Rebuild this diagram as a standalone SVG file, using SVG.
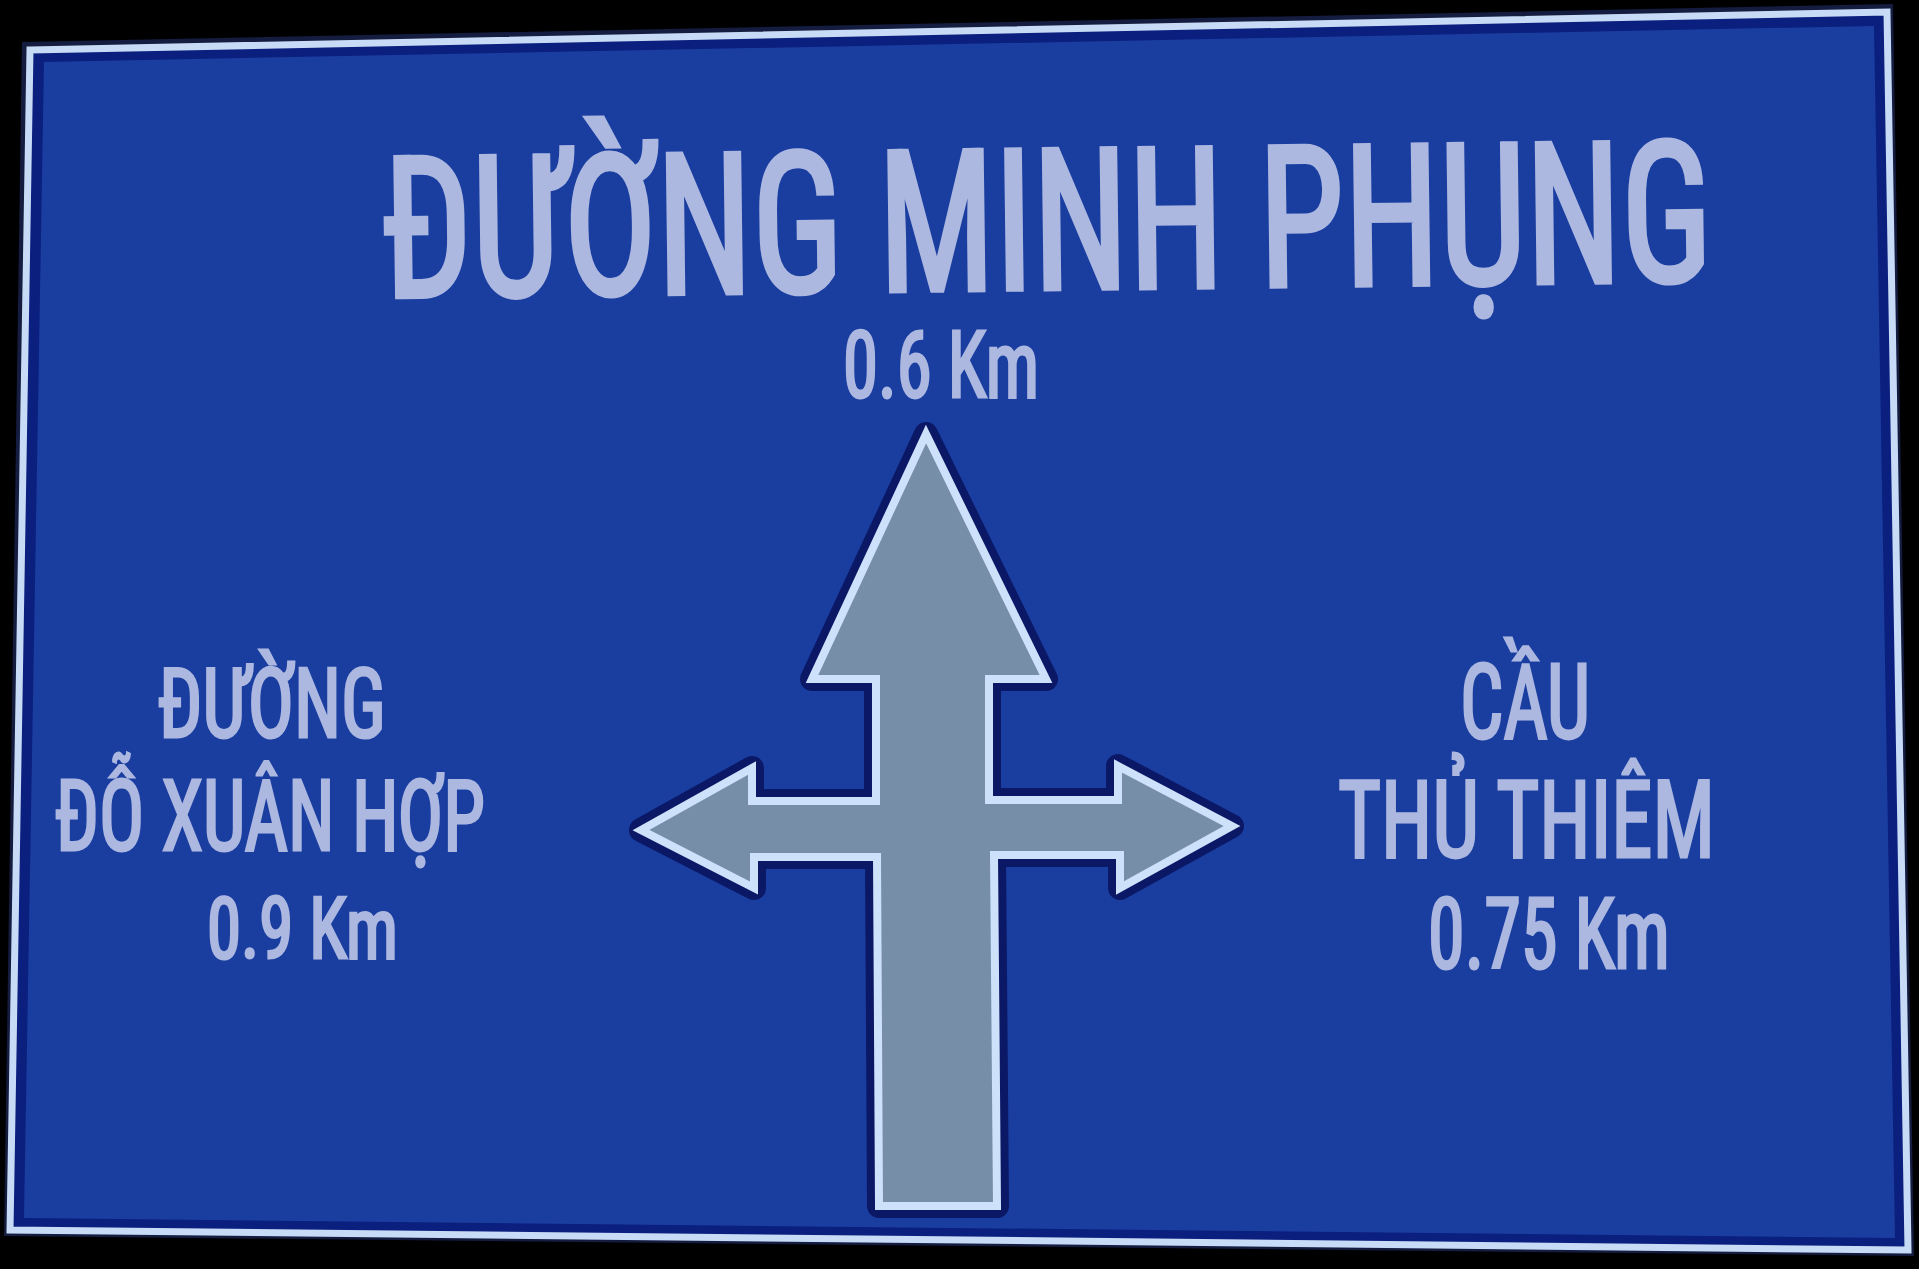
<svg xmlns="http://www.w3.org/2000/svg" width="1919" height="1269" viewBox="0 0 1919 1269">
  <style>
    .t { font-family: 'Liberation Sans Narrow', 'Roboto Condensed', 'DejaVu Sans Condensed', Roboto, sans-serif; font-weight: normal; fill: #adb8e1; stroke: #adb8e1; stroke-width: 5; stroke-linejoin: miter; }
    .s { stroke-width: 3; }
  </style>
  <defs>
    <polygon id="arrowShape" points="926,434 1046,679 989,679 989,800 1118,800 1118,766 1232,826 1120,888 1120,855 994,855 997,1206 879,1206 877,857 754,857 754,888 641,830 752,768 752,801 876,801 876,679 812,679"/>
  </defs>
  <rect id="backdrop" x="0" y="0" width="1919" height="1269" fill="#000000"/>
  <g id="sign">
    <polygon points="22,42 1893,4 1914,1256 4,1236" fill="#141c40"/>
    <polygon points="30,50 1887,12 1908,1250 10,1230" fill="#0b1f7e" stroke="#c8dbf6" stroke-width="7" stroke-linejoin="miter"/>
    <polygon points="44,62 1874,26 1895,1238 24,1218" fill="#1a3ea0"/>
  </g>
  <g id="arrow">
    <use href="#arrowShape" fill="#0a1866" stroke="#0a1866" stroke-width="24" stroke-linejoin="round"/>
    <use href="#arrowShape" fill="#768ea8" stroke="#cde1fa" stroke-width="8" stroke-linejoin="miter" stroke-miterlimit="6"/>
  </g>
  <g id="title-straight">
    <text class="t" x="383" y="297" font-size="196" textLength="1330" lengthAdjust="spacingAndGlyphs" transform="rotate(-0.7 383 297)">ĐƯỜNG MINH PHỤNG</text>
    <text class="t s" x="843" y="397" font-size="93" textLength="196" lengthAdjust="spacingAndGlyphs">0.6 Km</text>
  </g>
  <g id="label-left">
    <text class="t s" x="158" y="737" font-size="97" textLength="228" lengthAdjust="spacingAndGlyphs">ĐƯỜNG</text>
    <text class="t s" x="55" y="850" font-size="99" textLength="430" lengthAdjust="spacingAndGlyphs">ĐỖ XUÂN HỢP</text>
    <text class="t s" x="207" y="958" font-size="85" textLength="191" lengthAdjust="spacingAndGlyphs">0.9 Km</text>
  </g>
  <g id="label-right">
    <text class="t s" x="1460" y="738" font-size="103" textLength="130" lengthAdjust="spacingAndGlyphs">CẦU</text>
    <text class="t s" x="1338" y="857" font-size="107" textLength="377" lengthAdjust="spacingAndGlyphs">THỦ THIÊM</text>
    <text class="t s" x="1428" y="968" font-size="98" textLength="242" lengthAdjust="spacingAndGlyphs">0.75 Km</text>
  </g>
</svg>
